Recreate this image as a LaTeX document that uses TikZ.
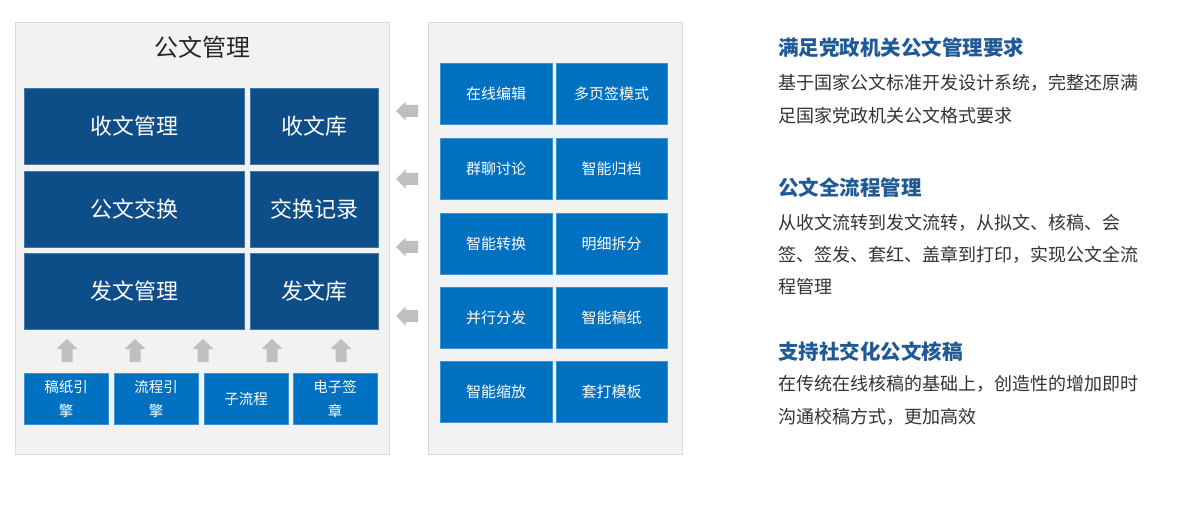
\documentclass[tikz,border=0pt]{standalone}
\usepackage{fontspec}
\setmainfont{Noto Sans CJK SC}
\definecolor{darkblue}{HTML}{0D4E89}
\definecolor{darkedge}{HTML}{4575A6}
\definecolor{midblue}{HTML}{0070C0}
\definecolor{midedge}{HTML}{3C92D6}
\definecolor{panelbg}{HTML}{F2F2F2}
\definecolor{panelline}{HTML}{DADADA}
\definecolor{arrowgray}{HTML}{BFBFBF}
\definecolor{headblue}{HTML}{1F5A96}
\definecolor{bodytext}{HTML}{333333}
\begin{document}
\begin{tikzpicture}[x=1pt,y=-1pt,
  panel/.style={fill=panelbg,draw=panelline,line width=1pt,inner sep=0pt,outer sep=0pt},
  bigbox/.style={fill=darkblue,draw=darkedge,line width=0.6pt,text=white,inner sep=0pt,
    minimum height=76pt,font=\fontsize{22}{26}\selectfont},
  smallbox/.style={fill=midblue,draw=midedge,line width=0.6pt,text=white,inner sep=0pt,
    minimum width=84pt,minimum height=51pt,align=center,font=\fontsize{14.5}{24}\selectfont},
  featbox/.style={fill=midblue,draw=midedge,line width=0.6pt,text=white,inner sep=0pt,
    minimum height=61pt,font=\fontsize{15}{18}\selectfont},
  grayarrow/.style={fill=arrowgray,draw=none},
  headline/.style={anchor=west,inner sep=0pt,text=headblue,font=\fontsize{20.5}{24}\selectfont\bfseries},
  bodyline/.style={anchor=west,inner sep=0pt,text=bodytext,font=\fontsize{18}{22}\selectfont}
]
\useasboundingbox[fill=white] (0,0) rectangle (1200,505);

% panels
\node (lp) [panel,minimum width=374pt,minimum height=431pt] at (202,238.5) {};
\node (mp) [panel,minimum width=254pt,minimum height=431pt] at (555,238.5) {};

\node (title) [text=black!85,inner sep=0pt,font=\fontsize{24}{28}\selectfont] at (202,47) {公文管理};

% dark boxes
\node (sw)  [bigbox,minimum width=220pt] at (134,126.5) {收文管理};
\node (swk) [bigbox,minimum width=128pt] at (314,126.5) {收文库};
\node (gj)  [bigbox,minimum width=220pt] at (134,209) {公文交换};
\node (jh)  [bigbox,minimum width=128pt] at (314,209) {交换记录};
\node (fw)  [bigbox,minimum width=220pt] at (134,291.5) {发文管理};
\node (fwk) [bigbox,minimum width=128pt] at (314,291.5) {发文库};

% bottom boxes
\node (b1) [smallbox] at (66,398.5) {稿纸引\\擎};
\node (b2) [smallbox] at (156,398.5) {流程引\\擎};
\node (b3) [smallbox] at (246,398.5) {子流程};
\node (b4) [smallbox] at (335,398.5) {电子签\\章};

% up arrows
\foreach \cx in {67,135,203,272,341}{
  \fill[grayarrow] (\cx,339) -- (\cx+10.5,349) -- (\cx+5.5,349) -- (\cx+5.5,362)
     -- (\cx-5.5,362) -- (\cx-5.5,349) -- (\cx-10.5,349) -- cycle;
}

% left arrows
\foreach \cy in {111,179,247,316}{
  \fill[grayarrow] (396,\cy) -- (405.5,\cy-9.5) -- (405.5,\cy-6) -- (418,\cy-6)
     -- (418,\cy+6) -- (405.5,\cy+6) -- (405.5,\cy+9.5) -- cycle;
}

% feature boxes
\node (f11) [featbox,minimum width=112pt] at (496,94)    {在线编辑};
\node (f12) [featbox,minimum width=111pt] at (611.5,94)  {多页签模式};
\node (f21) [featbox,minimum width=112pt] at (496,168.5) {群聊讨论};
\node (f22) [featbox,minimum width=111pt] at (611.5,168.5) {智能归档};
\node (f31) [featbox,minimum width=112pt] at (496,243.5) {智能转换};
\node (f32) [featbox,minimum width=111pt] at (611.5,243.5) {明细拆分};
\node (f41) [featbox,minimum width=112pt] at (496,318)   {并行分发};
\node (f42) [featbox,minimum width=111pt] at (611.5,318) {智能稿纸};
\node (f51) [featbox,minimum width=112pt] at (496,392)   {智能缩放};
\node (f52) [featbox,minimum width=111pt] at (611.5,392) {套打模板};

% right text
\node (h1) [headline] at (778,48) {满足党政机关公文管理要求};
\node (t11) [bodyline] at (778,83)  {基于国家公文标准开发设计系统，完整还原满};
\node (t12) [bodyline] at (778,116) {足国家党政机关公文格式要求};

\node (h2) [headline] at (778,188) {公文全流程管理};
\node (t21) [bodyline] at (778,223) {从收文流转到发文流转，从拟文、核稿、会};
\node (t22) [bodyline] at (778,255) {签、签发、套红、盖章到打印，实现公文全流};
\node (t23) [bodyline] at (778,287) {程管理};

\node (h3) [headline] at (778,352) {支持社交化公文核稿};
\node (t31) [bodyline] at (778,384) {在传统在线核稿的基础上，创造性的增加即时};
\node (t32) [bodyline] at (778,417) {沟通校稿方式，更加高效};
\end{tikzpicture}
\end{document}
